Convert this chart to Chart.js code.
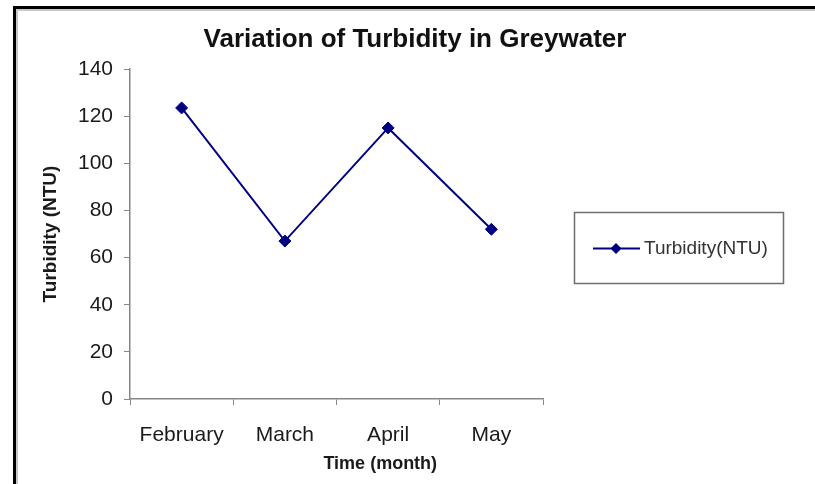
<!DOCTYPE html>
<html>
<head>
<meta charset="utf-8">
<script src="https://cdn.jsdelivr.net/npm/chart.js@4.4.0/dist/chart.umd.min.js"></script>
<style>
  html, body { margin: 0; padding: 0; background: #fff; }
  #wrap { position: relative; width: 815px; height: 484px; overflow: hidden; background: #fff; }
  #frame { position: absolute; left: 13px; top: 6px; right: -10px; bottom: -10px;
           border-top: 3px solid #000; border-left: 3px solid #000; }
  #frame2 { position: absolute; left: 16px; top: 9px; right: -10px; bottom: -10px;
            border-top: 2px solid #c8c8c8; border-left: 2px solid #c8c8c8; }
  canvas { position: absolute; left: 0; top: 0; }
</style>
</head>
<body>
<div id="wrap">
  <div id="frame"></div>
  <div id="frame2"></div>
  <canvas id="c" width="815" height="484"></canvas>
</div>
<script>
const chartTitle = 'Variation of Turbidity in Greywater';
const months = ['February', 'March', 'April', 'May'];
const turbidity = [123.5, 67, 115, 72];
const seriesLabel = 'Turbidity(NTU)';
const xAxisTitle = 'Time (month)';
const yAxisTitle = 'Turbidity (NTU)';
const yMin = 0, yMax = 140, yStep = 20;

const FONT = 'Arial, "Liberation Sans", sans-serif';
const NAVY = '#000080';
const AXIS = '#868686';

const customPlugin = {
  id: 'custom',
  afterDraw(chart) {
    const ctx = chart.ctx;
    const ca = chart.chartArea;
    // x axis title
    ctx.save();
    ctx.font = 'bold 18px ' + FONT;
    ctx.fillStyle = '#1a1a1a';
    ctx.textAlign = 'center';
    ctx.textBaseline = 'middle';
    ctx.fillText(xAxisTitle, ca.left + (ca.right - ca.left) * 0.606, 464);
    ctx.restore();
    // legend
    const ds = chart.data.datasets[0];
    const bx = 574, by = 212, bw = 209, bh = 71;
    ctx.save();
    ctx.strokeStyle = '#6e6e6e';
    ctx.lineWidth = 1.5;
    ctx.strokeRect(bx + 0.5, by + 0.5, bw, bh);
    const ly = by + bh / 2 + 1;
    ctx.strokeStyle = ds.borderColor;
    ctx.lineWidth = 2;
    ctx.beginPath();
    ctx.moveTo(593, ly);
    ctx.lineTo(640, ly);
    ctx.stroke();
    ctx.fillStyle = ds.pointBackgroundColor;
    ctx.beginPath();
    const cx = 616, r = 5.5;
    ctx.moveTo(cx, ly - r); ctx.lineTo(cx + r, ly); ctx.lineTo(cx, ly + r); ctx.lineTo(cx - r, ly);
    ctx.closePath();
    ctx.fill();
    ctx.font = '19px ' + FONT;
    ctx.fillStyle = '#333333';
    ctx.textAlign = 'left';
    ctx.textBaseline = 'middle';
    ctx.fillText(ds.label, 644, ly);
    ctx.restore();
  }
};

new Chart(document.getElementById('c'), {
  type: 'line',
  data: {
    labels: months,
    datasets: [{
      label: seriesLabel,
      data: turbidity,
      borderColor: NAVY,
      backgroundColor: NAVY,
      pointBackgroundColor: NAVY,
      pointBorderColor: NAVY,
      borderWidth: 2,
      pointStyle: 'rectRot',
      pointRadius: 6,
      pointBorderWidth: 1,
      tension: 0,
      fill: false
    }]
  },
  options: {
    responsive: false,
    animation: false,
    devicePixelRatio: 1,
    layout: { padding: { left: 15, right: 0, top: 0, bottom: 0 } },
    plugins: {
      legend: { display: false },
      tooltip: { enabled: false },
      title: {
        display: true,
        text: chartTitle,
        color: '#111',
        font: { family: FONT, size: 26, weight: 'bold', lineHeight: 1.0 },
        padding: { top: 27, bottom: 16 }
      }
    },
    scales: {
      x: {
        type: 'category',
        offset: true,
        grid: { offset: true, drawOnChartArea: false, drawTicks: true, tickLength: 6, color: AXIS, lineWidth: 1 },
        border: { display: true, color: AXIS, width: 1.5 },
        ticks: { color: '#1a1a1a', font: { family: FONT, size: 21 }, padding: 18, maxRotation: 0 },
        afterFit(scale) { scale.height = 85; }
      },
      y: {
        min: yMin, max: yMax,
        grid: { drawOnChartArea: false, drawTicks: true, tickLength: 6, color: AXIS, lineWidth: 1 },
        border: { display: true, color: AXIS, width: 1.5 },
        ticks: { stepSize: yStep, color: '#1a1a1a', font: { family: FONT, size: 21 }, padding: 11 },
        title: {
          display: true,
          text: yAxisTitle,
          color: '#1a1a1a',
          font: { family: FONT, size: 19, weight: 'bold', lineHeight: 1.2 },
          padding: { top: 24, bottom: 0 }
        },
        afterFit(scale) { scale.width = 115; }
      },
      spacer: {
        type: 'linear',
        position: 'right',
        display: true,
        grid: { display: false, drawTicks: false },
        border: { display: false },
        ticks: { display: false },
        afterFit(scale) { scale.width = 272; }
      }
    }
  },
  plugins: [customPlugin]
});
</script>
</body>
</html>
